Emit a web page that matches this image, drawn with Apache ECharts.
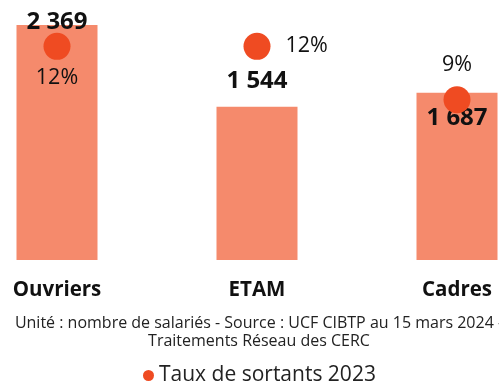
<!DOCTYPE html>
<html>
<head>
<meta charset="utf-8">
<script src="https://cdn.jsdelivr.net/npm/echarts@6/dist/echarts.min.js"></script>
<style>
  html, body { margin: 0; padding: 0; background: #fff; }
  #chart { width: 499px; height: 385px; }
</style>
</head>
<body>
<div id="chart"></div>
<script>
// Effectifs salariés par catégorie et taux de sortants 2023
const categories = ['Ouvriers', 'ETAM', 'Cadres'];
const salaries = [2369, 1544, 1687];
const tauxSortants = [0.12, 0.12, 0.09];
const legendName = 'Taux de sortants 2023';
const sourceLines = [
  'Unité : nombre de salariés - Source : UCF CIBTP au 15 mars 2024 -',
  'Traitements Réseau des CERC'
];

const FONT = '"Open Sans", sans-serif';
const fmtNombre = v => String(v).replace(/\B(?=(\d{3})+(?!\d))/g, ' ');

// label placement per category (value labels of bars and rate labels of dots)
const barLabelOffsets = [[0, 14], [0, -9], [0, 43]];
const rateLabelPos = ['bottom', 'right', 'top'];
const rateLabelDist = [7, 15, 10];

const chart = echarts.init(document.getElementById('chart'), null, { renderer: 'canvas' });

chart.setOption({
  animation: false,
  textStyle: { fontFamily: FONT },
  grid: { left: -43, width: 600, top: 25, bottom: 125, containLabel: false, outerBoundsMode: 'none' },
  title: {
    text: sourceLines.join('\n'),
    left: 254,
    top: 309,
    textAlign: 'center',
    textStyle: { fontFamily: FONT, fontSize: 16, fontWeight: 'normal', color: '#222', lineHeight: 18.5 }
  },
  legend: {
    data: [legendName],
    top: 365,
    left: 143,
    icon: 'circle',
    itemWidth: 11,
    itemHeight: 11,
    itemGap: 5,
    padding: 0,
    textStyle: { fontFamily: FONT, fontSize: 21, color: '#222' }
  },
  xAxis: {
    type: 'category',
    data: categories,
    axisLine: { show: false },
    axisTick: { show: false },
    axisLabel: { fontFamily: FONT, fontSize: 20.5, fontWeight: 'bold', color: '#111', margin: 20 }
  },
  yAxis: [
    { type: 'value', min: 0, max: 'dataMax', show: false, splitLine: { show: false } },
    { type: 'value', min: 0, max: 0.132, show: false, splitLine: { show: false } }
  ],
  series: [
    {
      type: 'bar',
      name: 'Salariés',
      barWidth: 81,
      itemStyle: { color: '#F58A6C' },
      data: salaries.map((v, i) => ({
        value: v,
        label: { offset: barLabelOffsets[i] }
      })),
      label: {
        show: true,
        position: 'top',
        distance: 5,
        formatter: p => fmtNombre(p.value),
        fontFamily: FONT,
        fontSize: 24,
        fontWeight: 'bold',
        color: '#111'
      },
      z: 1
    },
    {
      type: 'scatter',
      name: legendName,
      yAxisIndex: 1,
      symbol: 'circle',
      symbolSize: 27,
      itemStyle: { color: '#EF4B22', opacity: 1 },
      data: tauxSortants.map((v, i) => ({
        value: v,
        label: { position: rateLabelPos[i], distance: rateLabelDist[i] }
      })),
      label: {
        show: true,
        formatter: p => Math.round(p.value * 100) + '%',
        fontFamily: FONT,
        fontSize: 21.5,
        color: '#111'
      },
      z: 3
    }
  ]
});
</script>
</body>
</html>
